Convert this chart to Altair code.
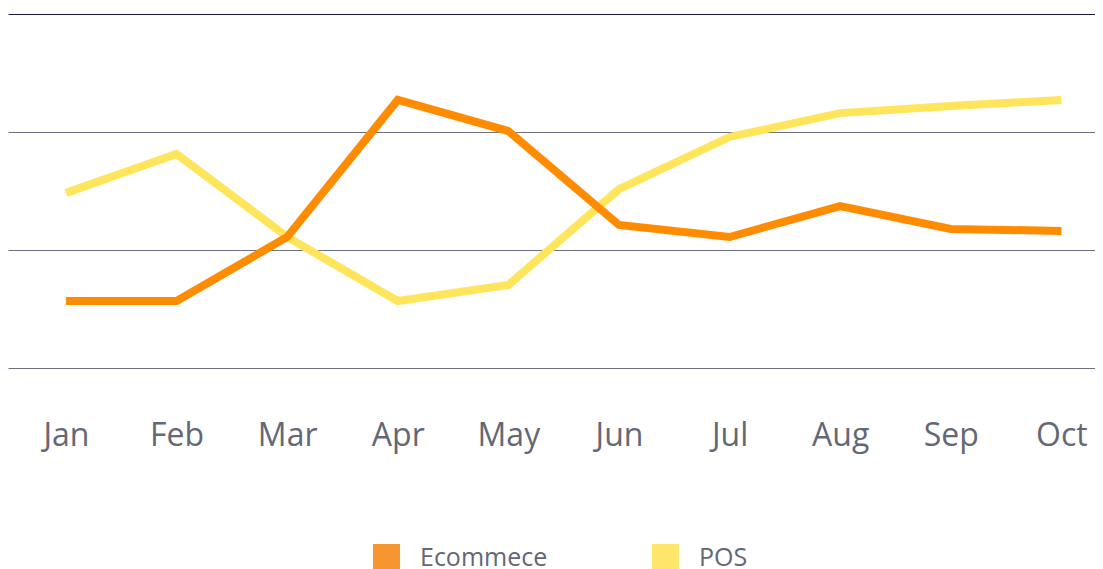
import altair as alt
import pandas as pd

months = ["Jan", "Feb", "Mar", "Apr", "May", "Jun", "Jul", "Aug", "Sep", "Oct"]
ecommerce = [28.4, 28.4, 55.5, 113.6, 100.4, 60.6, 55.5, 68.6, 58.9, 58.1]
pos = [74.2, 90.7, 55.5, 28.4, 35.2, 75.8, 97.9, 108.0, 111.0, 113.6]
series_names = ["Ecommece", "POS"]
line_colors = ["#FF8C00", "#FFE55C"]
legend_colors = ["#F7962F", "#FFE66B"]
y_ticks = [0, 50, 100, 150]

rows = []
for i, (m, v) in enumerate(zip(months, ecommerce)):
    rows.append({"idx": i, "month": m, "series": "Ecommece", "value": v})
for i, (m, v) in enumerate(zip(months, pos)):
    rows.append({"idx": i, "month": m, "series": "POS", "value": v})
df = pd.DataFrame(rows)

FONT = "Open Sans"
LABEL = "#646775"
label_expr = "[" + ",".join("'%s'" % m for m in months) + "][datum.value]"

x = alt.X(
    "idx:Q",
    scale=alt.Scale(domain=[-0.524, 9.304], nice=False, zero=False),
    axis=alt.Axis(
        title=None, domain=False, ticks=False, grid=False,
        values=list(range(len(months))), labelExpr=label_expr,
        labelFontSize=32, labelColor=LABEL, labelFont=FONT,
        labelPadding=52, labelAngle=0, labelFlush=False, labelOverlap=False,
    ),
)
y = alt.Y(
    "value:Q",
    scale=alt.Scale(domain=[0, 150], nice=False, zero=True),
    axis=alt.Axis(
        title=None, domain=False, ticks=False, labels=False,
        values=y_ticks, grid=True, gridWidth=1.2,
        gridColor={"condition": {"test": "datum.value == 150", "value": "#1b1c3d"}, "value": "#6c7080"},
    ),
)

lines = alt.Chart(df).mark_line(strokeWidth=8, strokeCap="butt", strokeJoin="miter").encode(
    x=x,
    y=y,
    color=alt.Color("series:N", scale=alt.Scale(domain=series_names, range=line_colors), legend=None),
)

pos_line = lines.transform_filter(alt.datum.series == "POS")
eco_line = lines.transform_filter(alt.datum.series == "Ecommece")

legend_layer = alt.Chart(df).mark_point(opacity=0, filled=True).encode(
    x=x,
    y=y,
    fill=alt.Fill(
        "series:N",
        scale=alt.Scale(domain=series_names, range=legend_colors),
        legend=alt.Legend(
            title=None, orient="none", direction="horizontal",
            legendX=365, legendY=530,
            symbolType="square", symbolSize=729, symbolOpacity=1, symbolStrokeWidth=0,
            labelFontSize=25, labelColor=LABEL, labelFont=FONT,
            labelOffset=20, columnPadding=104,
        ),
    ),
)

chart = alt.layer(pos_line, eco_line, legend_layer).resolve_scale(
    color="independent", fill="independent"
).properties(
    width=1087, height=354, background="#ffffff",
    padding={"left": 0, "top": 6, "right": 0, "bottom": 0},
).configure_view(stroke=None)

chart.save("out.html", embed_options={"renderer": "svg", "actions": False})
